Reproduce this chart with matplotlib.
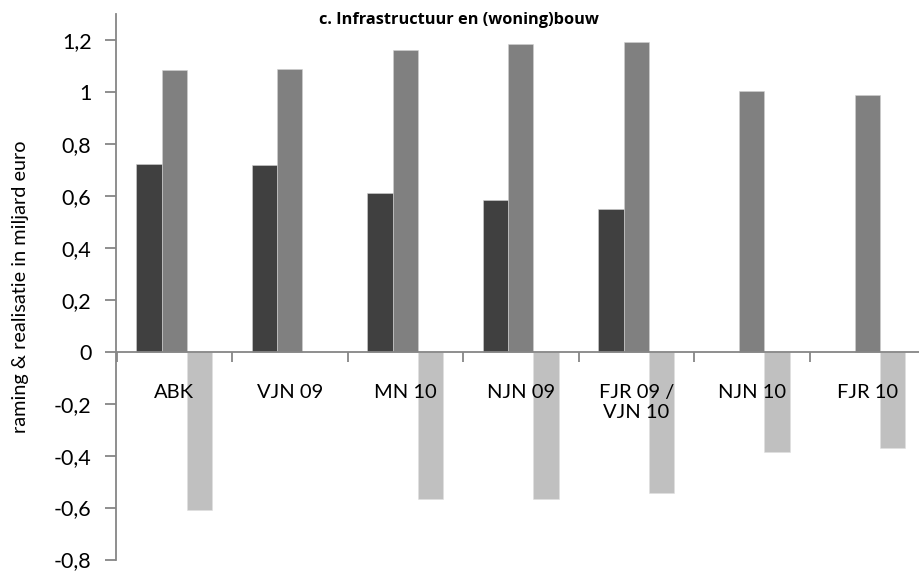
import numpy as np
import matplotlib
matplotlib.use("Agg")
import matplotlib.pyplot as plt
from matplotlib.ticker import FixedLocator, FuncFormatter

plt.rcParams['font.family'] = ['Lato', 'DejaVu Sans']

categories = ["ABK", "VJN 09", "MN 10", "NJN 09", "FJR 09 /\nVJN 10", "NJN 10", "FJR 10"]
series_dark = [0.723, 0.720, 0.610, 0.585, 0.551, np.nan, np.nan]
series_mid = [1.086, 1.089, 1.160, 1.185, 1.191, 1.003, 0.987]
series_light = [-0.610, np.nan, -0.569, -0.569, -0.543, -0.388, -0.371]
y_ticks = [-0.8, -0.6, -0.4, -0.2, 0, 0.2, 0.4, 0.6, 0.8, 1.0, 1.2]

title = "c. Infrastructuur en (woning)bouw"
ylabel = "raming & realisatie in miljard euro"

W, H = 919, 571
fig = plt.figure(figsize=(W / 100, H / 100), dpi=100)
left, right = 116.5, 925.0
top, bottom = 14.0, 559.5
ax = fig.add_axes([left / W, 1 - bottom / H, (right - left) / W, (bottom - top) / H])

axis_gray = "#868686"
x = np.arange(len(categories))
bw = 0.22
ax.bar(x - bw, series_dark, bw, color="#404040", edgecolor="#d0d0d0", linewidth=0.4)
ax.bar(x, series_mid, bw, color="#808080", edgecolor="#d0d0d0", linewidth=0.4)
ax.bar(x + bw, series_light, bw, color="#c0c0c0", edgecolor="#e0e0e0", linewidth=0.4)

ax.set_xlim(-0.5, len(categories) - 0.5)
ax.set_ylim(-0.8, 1.3)

for s in ("top", "right"):
    ax.spines[s].set_visible(False)
ax.spines["left"].set_color(axis_gray)
ax.spines["left"].set_linewidth(1.3)
ax.spines["left"].set_bounds(-0.8, 1.3)
ax.spines["bottom"].set_position(("data", 0))
ax.spines["bottom"].set_color(axis_gray)
ax.spines["bottom"].set_linewidth(1.3)

ax.yaxis.set_major_locator(FixedLocator(y_ticks))
ax.yaxis.set_major_formatter(FuncFormatter(lambda v, p: ("%g" % round(v, 1)).replace(".", ",")))
ax.tick_params(axis="y", direction="out", length=8, width=1.3, color=axis_gray,
               labelsize=15.5, pad=10, labelcolor="#000000")

# boundary ticks on the zero line, category names centred between them
ax.xaxis.set_major_locator(FixedLocator(np.arange(len(categories) + 1) - 0.5))
ax.xaxis.set_major_formatter(FuncFormatter(lambda v, p: ""))
ax.xaxis.set_minor_locator(FixedLocator(x))
ax.set_xticklabels(categories, minor=True)
ax.tick_params(axis="x", which="major", direction="out", length=7, width=1.3, color=axis_gray)
ax.tick_params(axis="x", which="minor", length=0, labelsize=14.5, pad=23)
for lbl in ax.get_xticklabels(minor=True):
    lbl.set_linespacing(1.25)

fig.text(21 / W, 1 - 287 / H, ylabel, rotation=90, ha="center", va="center", fontsize=14.3)
fig.text(459 / W, 1 - 20 / H, title, ha="center", va="center", fontsize=11.8,
         fontweight="bold", family=["Open Sans", "DejaVu Sans"])

fig.savefig("out.png", dpi=100)
